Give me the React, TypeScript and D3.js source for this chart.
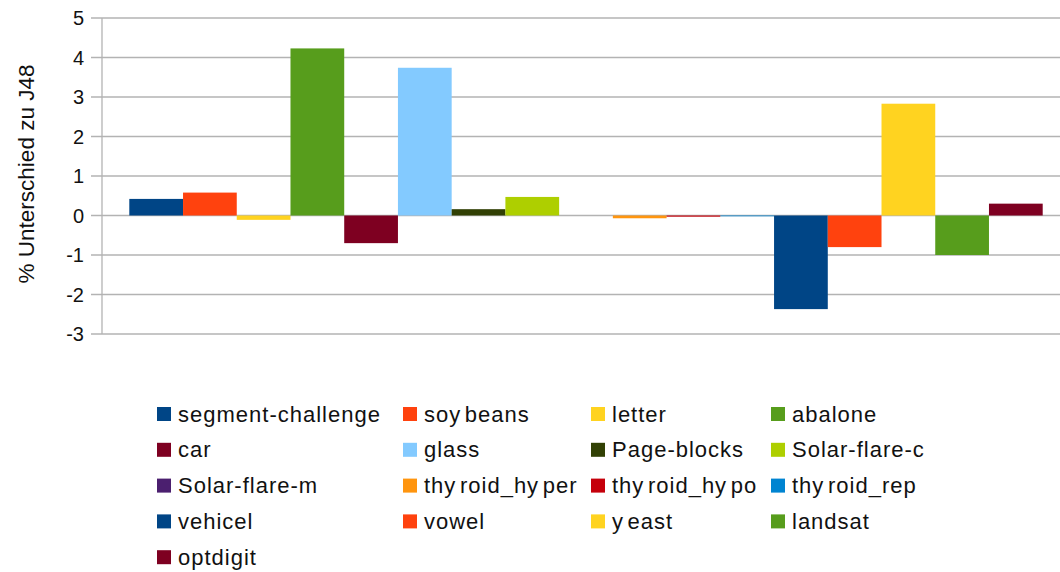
import React from "react";
import * as d3 from "d3";

const seriesNames = [
  "segment-challenge", "soy beans", "letter", "abalone",
  "car", "glass", "Page-blocks", "Solar-flare-c",
  "Solar-flare-m", "thy roid_hy per", "thy roid_hy po", "thy roid_rep",
  "vehicel", "vowel", "y east", "landsat",
  "optdigit",
];
const seriesValues = [
  0.42, 0.58, -0.11, 4.23,
  -0.70, 3.74, 0.16, 0.47,
  0.0, -0.07, -0.03, -0.02,
  -2.37, -0.80, 2.83, -1.0,
  0.30,
];
const seriesColors = [
  "#004586", "#ff420e", "#ffd320", "#579d1c",
  "#7e0021", "#83caff", "#314004", "#aecf00",
  "#4b1f6f", "#ff950e", "#c5000b", "#0084d1",
  "#004586", "#ff420e", "#ffd320", "#579d1c",
  "#7e0021",
];
const yTicks = [-3, -2, -1, 0, 1, 2, 3, 4, 5];
const yTitle = "% Unterschied zu J48";

const W = 1060;
const H = 572;
const FONT = "'Liberation Sans', Arial, sans-serif";

export default function App() {
  const y = d3.scaleLinear().domain([-3, 5]).range([334, 18]);
  const x = d3.scaleBand<string>().domain(seriesNames).range([129.3, 1042.7]).padding(0);
  const axisX = 102;
  const legendColX = [157, 403, 591, 771];
  const legendRowY0 = 414;
  const legendRowStep = 35.8;
  const sq = 14;

  return (
    <svg
      width={W}
      height={H}
      style={{ position: "absolute", left: 0, top: 0, background: "#fff" }}
      fontFamily={FONT}
    >
      <rect x={0} y={0} width={W} height={H} fill="#fff" />
      {yTicks.map((t) => (
        <line
          key={"g" + t}
          x1={91}
          x2={W}
          y1={y(t)}
          y2={y(t)}
          stroke="#b3b3b3"
          strokeWidth={1.3}
        />
      ))}
      <line x1={axisX} x2={axisX} y1={y(5)} y2={y(-3)} stroke="#b3b3b3" strokeWidth={1.3} />
      {yTicks.map((t) => (
        <text
          key={"t" + t}
          x={84}
          y={y(t)}
          textAnchor="end"
          dominantBaseline="central"
          fontSize={20}
          fill="#111"
        >
          {t}
        </text>
      ))}
      <text
        transform={`translate(26, 174) rotate(-90)`}
        textAnchor="middle"
        dominantBaseline="central"
        fontSize={22.5}
        fill="#111"
      >
        {yTitle}
      </text>
      {seriesNames.map((name, i) => {
        const v = seriesValues[i];
        const y0 = y(0);
        const y1 = y(v);
        return (
          <rect
            key={"b" + name + i}
            x={x(name)}
            width={x.bandwidth()}
            y={Math.min(y0, y1)}
            height={Math.max(Math.abs(y1 - y0), 0.001)}
            fill={seriesColors[i]}
          />
        );
      })}
      {seriesNames.map((name, i) => {
        const col = i % 4;
        const row = Math.floor(i / 4);
        const cy = legendRowY0 + row * legendRowStep;
        const cx = legendColX[col];
        return (
          <g key={"l" + name + i}>
            <rect x={cx} y={cy - sq / 2} width={sq} height={sq} fill={seriesColors[i]} />
            <text
              x={cx + 21}
              y={cy}
              dominantBaseline="central"
              fontSize={22}
              letterSpacing={1.0}
              wordSpacing={-3.5}
              fill="#111"
            >
              {name}
            </text>
          </g>
        );
      })}
    </svg>
  );
}
